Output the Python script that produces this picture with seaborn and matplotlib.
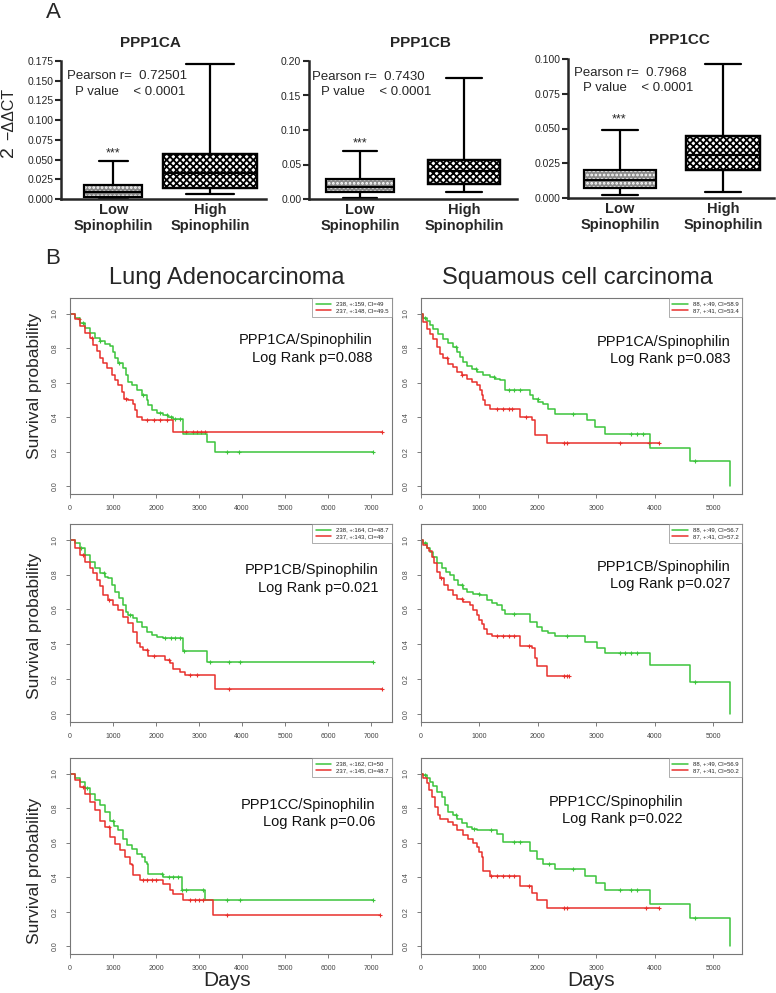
import numpy as np
import pandas as pd
import matplotlib
matplotlib.use('Agg')
import matplotlib.pyplot as plt
from matplotlib.patches import PathPatch
import seaborn as sns

# ---------------- panel A: five-number summaries (min, q1, median, q3, max)
groups = ['Low', 'High']
ca_low = [0.0005, 0.002, 0.009, 0.0178, 0.048]
ca_high = [0.0068, 0.0135, 0.033, 0.057, 0.171]
cb_low = [0.001, 0.0097, 0.018, 0.029, 0.0696]
cb_high = [0.010, 0.0217, 0.040, 0.056, 0.176]
cc_low = [0.0024, 0.0072, 0.013, 0.0204, 0.049]
cc_high = [0.0046, 0.0204, 0.031, 0.0446, 0.0966]
pearson = ['0.72501', '0.7430', '0.7968']

# ---------------- panel B: Kaplan-Meier steps (days, survival) + censor times
la_ca_g_t = [0, 116, 233, 349, 465, 581, 698, 814, 930, 1008, 1046, 1124, 1240, 1302, 1356, 1434, 1550, 1666, 1783, 1821, 1899, 2015, 2170, 2286, 2403, 2620, 3180, 3370, 7050]
la_ca_g_s = [1, 0.977, 0.947, 0.918, 0.889, 0.859, 0.84, 0.824, 0.81, 0.78, 0.742, 0.713, 0.684, 0.645, 0.605, 0.586, 0.557, 0.527, 0.498, 0.469, 0.44, 0.426, 0.41, 0.40, 0.387, 0.30, 0.255, 0.20, 0.20]
la_ca_g_c = [300, 700, 1150, 1700, 2100, 2250, 2350, 2450, 2550, 3640, 3930, 7050]
la_ca_r_t = [0, 116, 233, 349, 465, 543, 636, 698, 775, 853, 969, 1046, 1124, 1201, 1256, 1356, 1473, 1511, 1566, 1666, 2403, 7250]
la_ca_r_s = [1, 0.967, 0.928, 0.889, 0.859, 0.82, 0.781, 0.742, 0.713, 0.684, 0.645, 0.615, 0.586, 0.547, 0.508, 0.498, 0.479, 0.44, 0.40, 0.381, 0.316, 0.316]
la_ca_r_c = [200, 500, 1300, 1800, 1950, 2100, 2250, 2700, 2850, 2950, 3050, 3150, 7250]

sq_ca_g_t = [0, 40, 97, 154, 211, 297, 383, 469, 554, 611, 669, 726, 783, 869, 954, 1069, 1183, 1269, 1354, 1440, 1869, 1926, 2011, 2097, 2183, 2297, 2840, 2983, 3154, 3926, 4611, 5297]
sq_ca_g_s = [1, 0.977, 0.958, 0.933, 0.91, 0.881, 0.852, 0.828, 0.805, 0.776, 0.747, 0.722, 0.699, 0.68, 0.661, 0.646, 0.632, 0.623, 0.613, 0.556, 0.527, 0.508, 0.489, 0.479, 0.45, 0.421, 0.383, 0.345, 0.301, 0.224, 0.148, 0.0]
sq_ca_g_c = [60, 600, 950, 1250, 1500, 1600, 1700, 2000, 2600, 3600, 3700, 3800, 4700]
sq_ca_r_t = [0, 40, 97, 154, 211, 269, 326, 383, 469, 554, 611, 697, 783, 869, 954, 1011, 1040, 1069, 1097, 1183, 1697, 1897, 1954, 2154, 4069]
sq_ca_r_s = [1, 0.952, 0.91, 0.881, 0.852, 0.805, 0.766, 0.741, 0.709, 0.69, 0.661, 0.642, 0.623, 0.603, 0.584, 0.556, 0.527, 0.498, 0.469, 0.45, 0.402, 0.383, 0.297, 0.249, 0.249]
sq_ca_r_c = [450, 700, 1300, 1400, 1500, 1550, 1800, 2450, 2500, 3400, 3900, 4069]

la_cb_g_t = [0, 116, 233, 349, 465, 581, 698, 814, 891, 969, 1046, 1147, 1240, 1302, 1356, 1473, 1550, 1666, 1783, 1899, 2015, 2170, 2635, 3178, 7050]
la_cb_g_s = [1, 0.981, 0.952, 0.914, 0.875, 0.837, 0.808, 0.789, 0.78, 0.741, 0.703, 0.664, 0.626, 0.588, 0.568, 0.549, 0.531, 0.502, 0.473, 0.454, 0.444, 0.435, 0.364, 0.30, 0.30]
la_cb_g_c = [250, 800, 1400, 2200, 2350, 2450, 2550, 2650, 3250, 3700, 3950, 7050]
la_cb_r_t = [0, 116, 233, 349, 465, 543, 620, 698, 775, 891, 1008, 1124, 1240, 1356, 1473, 1550, 1628, 1705, 1821, 2209, 2325, 2403, 2558, 2674, 3371, 7250]
la_cb_r_s = [1, 0.952, 0.914, 0.875, 0.837, 0.808, 0.77, 0.732, 0.684, 0.655, 0.626, 0.598, 0.559, 0.521, 0.473, 0.406, 0.387, 0.368, 0.335, 0.31, 0.291, 0.259, 0.243, 0.224, 0.144, 0.144]
la_cb_r_c = [300, 900, 1800, 1950, 2300, 2800, 2950, 3700, 7250]

sq_cb_g_t = [0, 40, 97, 154, 211, 280, 354, 429, 497, 566, 640, 714, 783, 897, 1011, 1126, 1211, 1297, 1383, 1440, 1869, 1983, 2069, 2183, 2297, 2811, 3011, 3154, 3926, 4611, 5297]
sq_cb_g_s = [1, 0.981, 0.952, 0.927, 0.903, 0.869, 0.836, 0.817, 0.797, 0.768, 0.739, 0.72, 0.701, 0.691, 0.681, 0.653, 0.637, 0.624, 0.595, 0.575, 0.527, 0.498, 0.479, 0.463, 0.45, 0.411, 0.382, 0.349, 0.282, 0.185, 0.0]
sq_cb_g_c = [60, 700, 1000, 1600, 2500, 3400, 3500, 3600, 3700, 4700]
sq_cb_r_t = [0, 40, 97, 143, 183, 223, 269, 326, 394, 469, 543, 611, 726, 840, 897, 954, 1000, 1040, 1080, 1126, 1211, 1697, 1897, 1954, 1983, 2154, 2526]
sq_cb_r_s = [1, 0.971, 0.952, 0.938, 0.903, 0.865, 0.817, 0.778, 0.739, 0.71, 0.681, 0.662, 0.643, 0.624, 0.595, 0.566, 0.537, 0.517, 0.488, 0.459, 0.446, 0.392, 0.382, 0.324, 0.276, 0.218, 0.218]
sq_cb_r_c = [350, 700, 1300, 1400, 1500, 1600, 1850, 2450, 2500, 2526]

la_cc_g_t = [0, 116, 233, 349, 465, 581, 698, 814, 930, 1023, 1124, 1225, 1318, 1434, 1550, 1666, 1744, 1783, 1821, 2170, 2596, 3139, 7040]
la_cc_g_s = [1, 0.975, 0.95, 0.917, 0.883, 0.848, 0.815, 0.776, 0.728, 0.699, 0.671, 0.622, 0.584, 0.565, 0.536, 0.516, 0.487, 0.478, 0.42, 0.40, 0.328, 0.27, 0.27]
la_cc_g_c = [400, 1000, 2150, 2300, 2400, 2500, 2600, 2700, 3100, 3650, 3950, 7040]
la_cc_r_t = [0, 116, 233, 349, 465, 581, 698, 814, 930, 1046, 1163, 1279, 1395, 1434, 1473, 1628, 2170, 2325, 2403, 2635, 3333, 7208]
la_cc_r_s = [1, 0.963, 0.921, 0.883, 0.834, 0.786, 0.728, 0.69, 0.632, 0.594, 0.555, 0.516, 0.478, 0.468, 0.41, 0.381, 0.358, 0.328, 0.304, 0.266, 0.179, 0.179]
la_cc_r_c = [300, 900, 1700, 1800, 1900, 2000, 2800, 2900, 3000, 3100, 3650, 7208]

sq_cc_g_t = [0, 40, 97, 154, 211, 280, 354, 411, 469, 543, 611, 697, 783, 869, 954, 1297, 1411, 1869, 1983, 2097, 2297, 2811, 3000, 3154, 3926, 4611, 5297]
sq_cc_g_s = [1, 0.994, 0.975, 0.949, 0.925, 0.896, 0.866, 0.818, 0.778, 0.759, 0.739, 0.714, 0.69, 0.68, 0.675, 0.651, 0.602, 0.553, 0.504, 0.475, 0.445, 0.406, 0.367, 0.327, 0.245, 0.161, 0.0]
sq_cc_g_c = [60, 600, 900, 1200, 1600, 1700, 2200, 2600, 3400, 3600, 3700, 4700]
sq_cc_r_t = [0, 40, 97, 143, 183, 240, 297, 326, 469, 543, 611, 714, 811, 886, 954, 1000, 1040, 1057, 1069, 1183, 1697, 1897, 1983, 2154, 4069]
sq_cc_r_s = [1, 0.975, 0.945, 0.906, 0.866, 0.808, 0.759, 0.739, 0.72, 0.70, 0.671, 0.647, 0.622, 0.596, 0.572, 0.543, 0.514, 0.465, 0.435, 0.406, 0.347, 0.308, 0.269, 0.224, 0.224]
sq_cc_r_c = [1200, 1300, 1400, 1500, 1600, 1850, 2450, 2500, 3850, 4069]

legend_txt = [
    ('238, +:159, Cl=49', '237, +:148, Cl=49.5'),
    ('88, +:49, Cl=58.9', '87, +:41, Cl=53.4'),
    ('238, +:164, Cl=48.7', '237, +:143, Cl=49'),
    ('88, +:49, Cl=56.7', '87, +:41, Cl=57.2'),
    ('238, +:162, Cl=50', '237, +:145, Cl=48.7'),
    ('88, +:49, Cl=56.9', '87, +:41, Cl=50.2'),
]
gene_txt = ['PPP1CA/Spinophilin', 'PPP1CA/Spinophilin', 'PPP1CB/Spinophilin',
            'PPP1CB/Spinophilin', 'PPP1CC/Spinophilin', 'PPP1CC/Spinophilin']
p_txt = ['Log Rank p=0.088', 'Log Rank p=0.083', 'Log Rank p=0.021',
         'Log Rank p=0.027', 'Log Rank p=0.06', 'Log Rank p=0.022']

sns.set_style('ticks')
plt.rcParams['font.family'] = ['Liberation Sans', 'DejaVu Sans']
plt.rcParams['hatch.linewidth'] = 1.3

W, H = 776, 993
fig = plt.figure(figsize=(W / 100, H / 100), dpi=100)


def px_axes(x0, y0, x1, y1):
    return fig.add_axes([x0 / W, 1 - y1 / H, (x1 - x0) / W, (y1 - y0) / H])


def ftext(x, y, s, **kw):
    fig.text(x / W, 1 - y / H, s, **kw)


# ---------------- panel A
box_specs = [
    ((61, 61, 266, 199), ca_low, ca_high, 0.175, 0.025, '%.3f', (-0.54, 1.58), (0.6, 0.98), 'PPP1CA', (150, 43)),
    ((309, 61, 517, 199), cb_low, cb_high, 0.20, 0.05, '%.2f', (-0.49, 1.51), (0.66, 0.69), 'PPP1CB', (420, 43)),
    ((568, 59, 774, 198), cc_low, cc_high, 0.100, 0.025, '%.3f', (-0.505, 1.495), (0.7, 0.71), 'PPP1CC', (679, 40)),
]
ann_pos = [((67, 76), (75, 92), (113, 153)),
           ((312, 77), (321, 92), (360, 143)),
           ((574, 73), (583, 88), (619, 119))]
# (face colour, hatch colour, hatch)
box_looks = {'Low': ('#8a8a8a', 'white', '....'), 'High': ('white', 'black', 'xxxxx')}

for i, (rect, low, high, ytop, ystep, fmt, xl, widths, title, tpos) in enumerate(box_specs):
    ax = px_axes(*rect)
    for grp, vals, wd in [('Low', low, widths[0]), ('High', high, widths[1])]:
        fc, hc, hatch = box_looks[grp]
        df = pd.DataFrame({'group': grp, 'value': vals})
        n0 = len(ax.patches)
        sns.boxplot(data=df, x='group', y='value', order=groups, width=wd,
                    whis=(0, 100), color=fc, saturation=1, linecolor='black',
                    linewidth=1.6, fliersize=0, ax=ax)
        for p in list(ax.patches[n0:]):
            p.set_facecolor(fc)
            p.set_hatch(hatch)
            p.set_edgecolor(hc)
            ax.add_patch(PathPatch(p.get_path(), transform=p.get_transform(),
                                   fill=False, ec='black', lw=1.6, zorder=p.get_zorder() + 0.1))
    ax.set_xlim(*xl)
    ax.set_ylim(0, ytop)
    ax.set_yticks(np.arange(0, ytop + 1e-9, ystep))
    ax.yaxis.set_major_formatter(matplotlib.ticker.FormatStrFormatter(fmt))
    ax.set_xticks([0, 1])
    ax.set_xticklabels(['Low\nSpinophilin', 'High\nSpinophilin'], fontsize=10.5,
                       fontweight='bold', linespacing=1.15)
    ax.tick_params(axis='x', length=0, pad=3)
    ax.tick_params(axis='y', length=4, width=1.5, labelsize=7.5, pad=1.5)
    ax.set_xlabel('')
    ax.set_ylabel('')
    sns.despine(ax=ax)
    for sp in ['left', 'bottom']:
        ax.spines[sp].set_linewidth(1.8)
    ftext(tpos[0], tpos[1], title, fontsize=11, fontweight='bold', ha='center', va='center')
    (px1, py1), (px2, py2), (sx, sy) = ann_pos[i]
    ftext(px1, py1, 'Pearson r=  ' + pearson[i], fontsize=9.5, ha='left', va='center')
    ftext(px2, py2, 'P value    < 0.0001', fontsize=9.5, ha='left', va='center')
    ftext(sx, sy, '***', fontsize=9, ha='center', va='center')

ftext(9, 152, '2', fontsize=14, rotation=90, ha='center', va='center')
ftext(9, 114, '\u2212\u0394\u0394CT', fontsize=11.5, rotation=90, ha='center', va='center')
ftext(53, 12, 'A', fontsize=16, ha='center', va='center')

# ---------------- panel B
ftext(53, 258, 'B', fontsize=16, ha='center', va='center')
ftext(227, 278, 'Lung Adenocarcinoma', fontsize=17, ha='center', va='center')
ftext(577, 278, 'Squamous cell carcinoma', fontsize=17, ha='center', va='center')

curves = [
    (la_ca_g_t, la_ca_g_s, la_ca_g_c, la_ca_r_t, la_ca_r_s, la_ca_r_c),
    (sq_ca_g_t, sq_ca_g_s, sq_ca_g_c, sq_ca_r_t, sq_ca_r_s, sq_ca_r_c),
    (la_cb_g_t, la_cb_g_s, la_cb_g_c, la_cb_r_t, la_cb_r_s, la_cb_r_c),
    (sq_cb_g_t, sq_cb_g_s, sq_cb_g_c, sq_cb_r_t, sq_cb_r_s, sq_cb_r_c),
    (la_cc_g_t, la_cc_g_s, la_cc_g_c, la_cc_r_t, la_cc_r_s, la_cc_r_c),
    (sq_cc_g_t, sq_cc_g_s, sq_cc_g_c, sq_cc_r_t, sq_cc_r_s, sq_cc_r_c),
]
rows_y = [(298, 494), (524, 722), (758, 954)]
cols_x = [(70, 392), (421, 742)]
xmax = [7488, 5497]
txt_pos = [((373, 340), (373, 358)), ((730, 342), (730, 359)),
           ((378, 570), (378, 588)), ((730, 567), (730, 584)),
           ((375, 805), (375, 822)), ((683, 802), (683, 819))]
ylab_y = [386, 626, 871]
green, red = '#3cc43c', '#e8302c'


def step_at(t, s, c):
    idx = np.searchsorted(np.asarray(t), np.asarray(c), side='right') - 1
    return np.asarray(s)[np.clip(idx, 0, len(s) - 1)]


for k, (gt, gs, gc, rt, rs, rc) in enumerate(curves):
    r, c = divmod(k, 2)
    ax = px_axes(cols_x[c][0], rows_y[r][0], cols_x[c][1], rows_y[r][1])
    sns.lineplot(x=gt, y=gs, drawstyle='steps-post', color=green, lw=1.1,
                 label=legend_txt[k][0], ax=ax)
    sns.lineplot(x=rt, y=rs, drawstyle='steps-post', color=red, lw=1.1,
                 label=legend_txt[k][1], ax=ax)
    sns.scatterplot(x=gc, y=step_at(gt, gs, gc), marker='+', s=12, color=green,
                    linewidth=0.8, ax=ax)
    sns.scatterplot(x=rc, y=step_at(rt, rs, rc), marker='+', s=12, color=red,
                    linewidth=0.8, ax=ax)
    ax.set_xlim(0, xmax[c])
    ax.set_ylim(-0.045, 1.09)
    ax.set_xticks(np.arange(0, xmax[c], 1000))
    ax.set_yticks(np.arange(0, 1.01, 0.2))
    ax.set_yticklabels(['%.1f' % v for v in np.arange(0, 1.01, 0.2)], rotation=90, va='center')
    ax.tick_params(length=3, width=0.6, color='#666', labelsize=5, labelcolor='#444', pad=5)
    ax.set_xlabel('')
    ax.set_ylabel('')
    for sp in ax.spines.values():
        sp.set_color('#777')
        sp.set_linewidth(0.8)
    leg = ax.legend(loc='upper right', fontsize=4.3, frameon=True, fancybox=False,
                    borderaxespad=0, handlelength=2.6, borderpad=0.6, labelspacing=0.25,
                    handletextpad=0.8)
    leg.get_frame().set_edgecolor('#888')
    leg.get_frame().set_linewidth(0.6)
    (gx, gy), (lx, ly) = txt_pos[k]
    ftext(gx, gy, gene_txt[k], fontsize=10.5, ha='right', va='center', color='#111')
    ftext(lx, ly, p_txt[k], fontsize=10.5, ha='right', va='center', color='#111')
    if c == 0:
        ftext(35, ylab_y[r], 'Survival probability', fontsize=12.5, rotation=90,
              ha='center', va='center')

ftext(227, 980, 'Days', fontsize=15, ha='center', va='center')
ftext(591, 980, 'Days', fontsize=15, ha='center', va='center')

fig.savefig('out.png', dpi=100)
